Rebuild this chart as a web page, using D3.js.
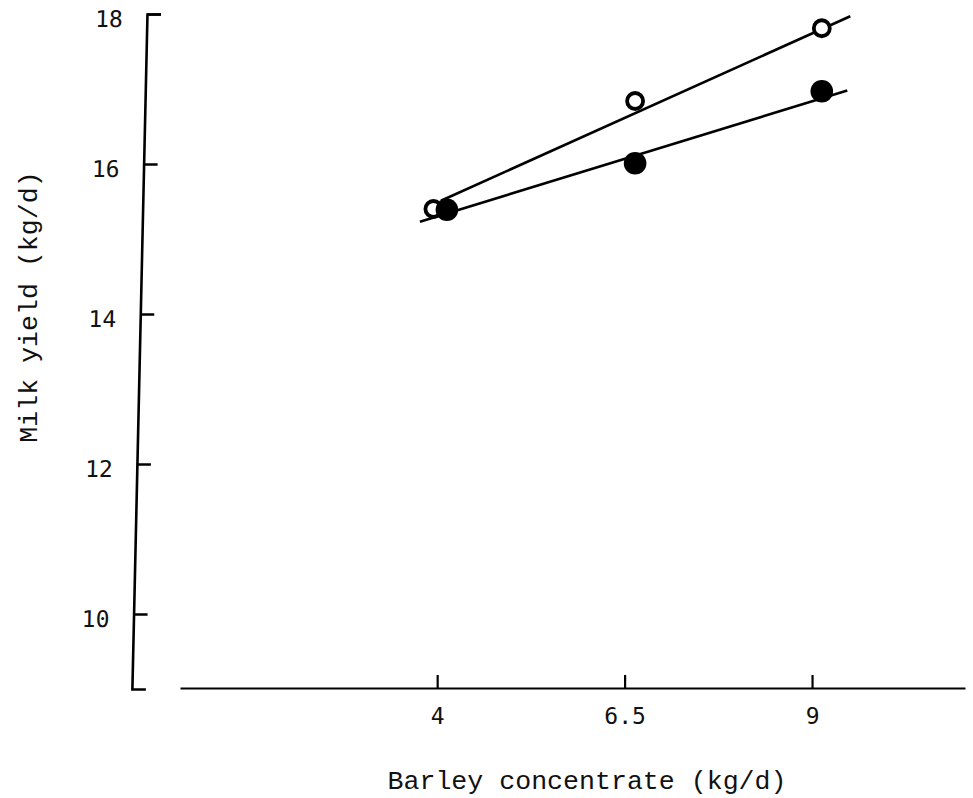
<!DOCTYPE html>
<html>
<head>
<meta charset="utf-8">
<script src="https://cdn.jsdelivr.net/npm/d3@7"></script>
<style>
  body { margin: 0; background: #fff; }
  svg { display: block; }
  .tick text { font-family: "DejaVu Sans Mono", monospace; fill: #111; }
  .title { font-family: "Liberation Mono", "Courier New", monospace; fill: #111; }
</style>
</head>
<body>
<div id="chart"></div>
<script>
// barley concentrate (kg/d) and milk yield (kg/d)
var xTicks = [4, 6.5, 9];
var yTicks = [10, 12, 14, 16, 18];
var openX = [3.95, 6.64, 9.13];
var openY = [15.4, 16.84, 17.81];
var filledX = [4.13, 6.64, 9.13];
var filledY = [15.39, 16.01, 16.97];
// fitted regression lines (end points)
var openLine = [[4.05, 15.51], [9.51, 17.97]];
var filledLine = [[3.77, 15.23], [9.47, 16.98]];

var width = 973, height = 798;

var x = d3.scaleLinear().domain([0.57, 11.04]).range([180, 965]);
var y = d3.scaleLinear().domain([9, 18]).range([689, 14]);

var svg = d3.select("#chart").append("svg")
    .attr("width", width)
    .attr("height", height);

svg.append("rect").attr("width", width).attr("height", height).attr("fill", "#fff");

// y axis, slightly slanted like the scanned original
var yAxis = svg.append("g")
    .attr("transform", "translate(147.3,0) skewX(-1.28)")
    .call(d3.axisLeft(y)
        .tickValues(yTicks)
        .tickSizeInner(-14)
        .tickSizeOuter(-14)
        .tickPadding(24)
        .tickFormat(d3.format("d")));
yAxis.select(".domain").attr("stroke", "#000").attr("stroke-width", 2.6).attr("fill", "none");
yAxis.selectAll(".tick line").attr("stroke", "#000").attr("stroke-width", 2.4);
yAxis.selectAll(".tick text").attr("font-size", 23).attr("dy", "0.55em");

// x axis
var xAxis = svg.append("g")
    .attr("transform", "translate(0,688)")
    .call(d3.axisBottom(x)
        .tickValues(xTicks)
        .tickSizeInner(-13)
        .tickSizeOuter(0)
        .tickPadding(20)
        .tickFormat(d => d));
xAxis.select(".domain").attr("stroke", "#000").attr("stroke-width", 2.2);
xAxis.selectAll(".tick line").attr("stroke", "#000").attr("stroke-width", 2.2);
xAxis.selectAll(".tick text").attr("font-size", 23);

// regression lines
var line = d3.line().x(d => x(d[0])).y(d => y(d[1]));
svg.selectAll(".fit")
    .data([openLine, filledLine])
    .enter().append("path")
    .attr("class", "fit")
    .attr("d", line)
    .attr("fill", "none")
    .attr("stroke", "#000")
    .attr("stroke-width", 2.6);

// open circles
svg.selectAll(".open")
    .data(d3.zip(openX, openY))
    .enter().append("circle")
    .attr("class", "open")
    .attr("cx", d => x(d[0]))
    .attr("cy", d => y(d[1]))
    .attr("r", 8)
    .attr("fill", "#fff")
    .attr("stroke", "#000")
    .attr("stroke-width", 3.8);

// filled circles
svg.selectAll(".filled")
    .data(d3.zip(filledX, filledY))
    .enter().append("circle")
    .attr("class", "filled")
    .attr("cx", d => x(d[0]))
    .attr("cy", d => y(d[1]))
    .attr("r", 11.3)
    .attr("fill", "#000");

// axis titles
svg.append("text")
    .attr("class", "title")
    .attr("x", 587)
    .attr("y", 789)
    .attr("text-anchor", "middle")
    .attr("font-size", 26.6)
    .text("Barley concentrate (kg/d)");

svg.append("text")
    .attr("class", "title")
    .attr("transform", "translate(37,307) rotate(-90)")
    .attr("text-anchor", "middle")
    .attr("font-size", 26.6)
    .text("Milk yield (kg/d)");
</script>
</body>
</html>
